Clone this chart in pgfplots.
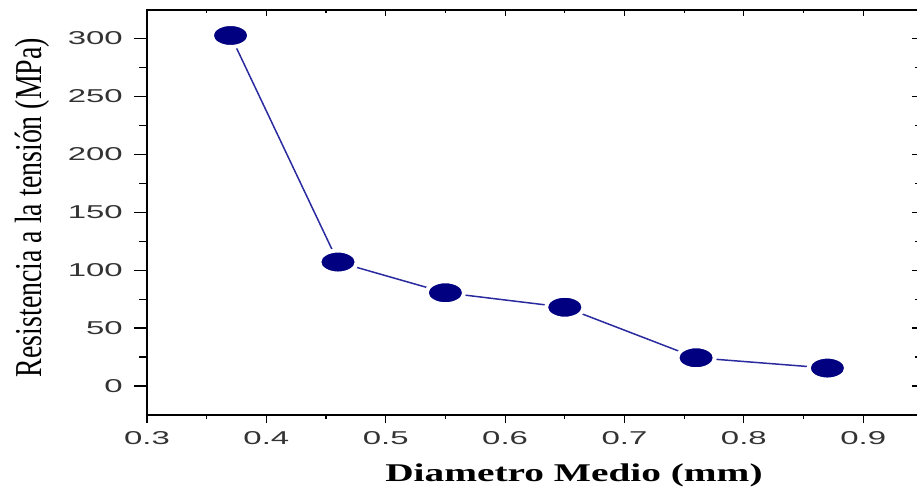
\documentclass[border=0pt]{standalone}
\usepackage{fontspec}
\setmainfont{Liberation Sans}
\newfontfamily\serif{Liberation Serif}
\usepackage{graphicx}
\usepackage{pgfplots}
\pgfplotsset{compat=1.18}
\definecolor{navy}{HTML}{000080}
\definecolor{linec}{HTML}{2B2BA0}
\definecolor{tickc}{HTML}{333333}
\begin{document}
\begin{tikzpicture}
\pgfplotsset{commonax/.style={scale only axis, width=771pt, height=405pt,
  xmin=0.3, xmax=0.9459, ymin=-25, ymax=324.5,
  at={(147pt,74pt)}, anchor=south west,
  xtick={0.3,0.4,0.5,0.6,0.7,0.8,0.9}, ytick={0,50,100,150,200,250,300},
  minor x tick num=1, minor y tick num=1,
  axis line style={line width=1.2pt, black},
  every tick/.style={black, line width=1.2pt}}}
% main axis: data, labels, bottom ticks
\begin{axis}[commonax,
  xtick pos=left, ytick pos=left, tick align=outside,
  major tick length=8pt, minor tick length=4pt,
  ytick style={draw=none}, every minor y tick/.append style={draw=none},
  /pgf/number format/assume math mode=true,
  ticklabel style={font=\fontsize{18.6}{20}\selectfont, text=tickc},
  xticklabel style={yshift=-5pt, xscale=1.77},
  yticklabel style={xshift=-10pt, xscale=1.77},
  xlabel={\serif\bfseries\fontsize{25.5}{28}\selectfont Diametro Medio (mm)},
  xlabel style={at={(axis description cs:0.5538,-0.1654)}, anchor=base, inner sep=0pt, xscale=1.543},
  ylabel={\serif\fontsize{38}{40}\selectfont\scalebox{0.734}[1]{Resistencia a la tensión (MPa)}},
  ylabel style={at={(axis description cs:-0.1258,0.5123)}, anchor=south, inner sep=0pt},
]
\addplot[linec, line width=1.5pt, mark=*, mark size=11.5pt,
  mark options={fill=navy, draw=white, line width=4pt, xscale=1.63}]
  coordinates {(0.37,302.5) (0.46,107) (0.55,80.5) (0.65,68) (0.76,24.4) (0.87,15.5)};
\end{axis}
% left ticks, outside
\begin{axis}[commonax, xtick=\empty, ytick pos=left, tick align=outside,
  major tick length=13pt, minor tick length=8pt, yticklabels={}]
\end{axis}
% top and right ticks, inside
\begin{axis}[commonax, xtick pos=right, ytick pos=right, tick align=inside,
  major tick length=6pt, minor tick length=3pt, xticklabels={}, yticklabels={}]
\end{axis}
\pgfresetboundingbox
\path[use as bounding box] (0,0) rectangle (917pt,489pt);
\end{tikzpicture}
\end{document}
